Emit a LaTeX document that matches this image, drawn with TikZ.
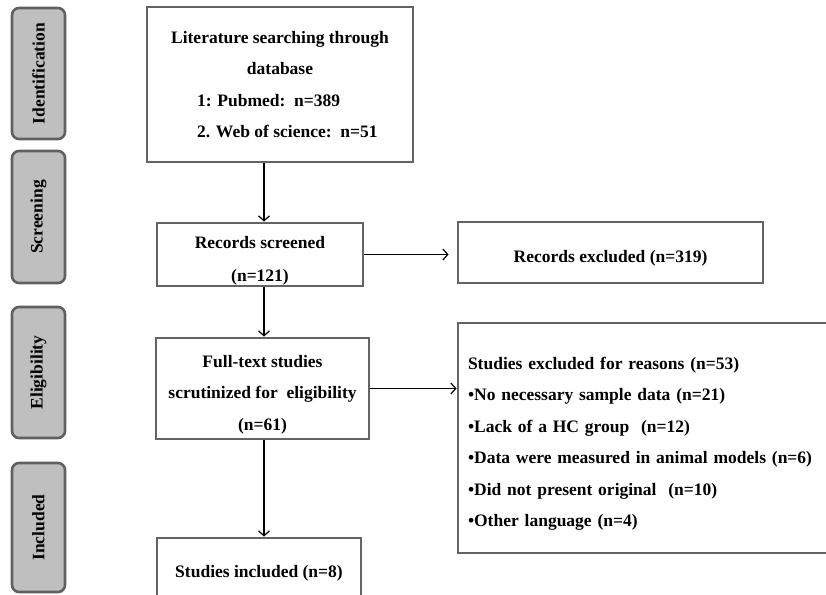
\documentclass[tikz,border=0pt]{standalone}
\usepackage{fontspec}
\setmainfont{Liberation Serif}
\usetikzlibrary{arrows.meta}

\definecolor{stagefill}{RGB}{191,191,191}
\definecolor{stageline}{RGB}{96,96,96}
\definecolor{boxline}{RGB}{100,100,100}

\newcommand{\boxdrop}{\rule{0pt}{24pt}}

\tikzset{every path/.style={line width=1.2pt}}
\tikzset{stage/.style={rectangle,rounded corners=7pt,draw=stageline,line width=2.6pt,
    fill=stagefill,rotate=90,minimum height=53pt,inner sep=0pt,
    font=\fontsize{17.5}{20}\selectfont\bfseries}}
\tikzset{flowbox/.style={rectangle,draw=boxline,line width=2.8pt,inner sep=0pt,
    align=center,font=\fontsize{17.5}{31.5}\selectfont\bfseries}}

\begin{document}
\begin{tikzpicture}[x=1pt,y=-1pt]
    \useasboundingbox (0,0) rectangle (826,594);
    \coordinate (col) at (264,0);
    \node[stage,minimum width=131pt] (idf) at (38.5,73.5) {Identification};
    \node[stage,minimum width=132pt] (scrn) at (38.5,217) {Screening};
    \node[stage,minimum width=131pt] (elig) at (38.5,372.5) {Eligibility};
    \node[stage,minimum width=129pt] (incl) at (38.5,527.5) {Included};
    \node[flowbox,minimum width=266pt,minimum height=155pt] (lit) at (280,84.5)
    {Literature searching through\\database\\
     \makebox[166pt][l]{1: Pubmed:\ \ n=389}\\
     \makebox[166pt][l]{2. Web of science:\ \ n=51}};
    \node[flowbox,minimum width=206pt,minimum height=63pt] (scr) at (260,254.5)
    {\boxdrop Records screened\\[1.5pt](n=121)};
    \node[flowbox,minimum width=213pt,minimum height=101pt] (full) at (262.5,388.5)
    {\boxdrop Full-text studies\\scrutinized for\ \ eligibility\\(n=61)};
    \node[flowbox,minimum width=204pt,minimum height=70pt] (sinc) at (259,573)
    {Studies included (n=8)};
    \node[flowbox,minimum width=305pt,minimum height=61pt] (rex) at (610.5,252.5)
    {\boxdrop Records excluded (n=319)};
    \node[flowbox,minimum width=400pt,minimum height=230pt,align=left,
    text width=380pt] (sex) at (658,438)
    {\boxdrop Studies excluded for reasons (n=53)\\
     \textbullet No necessary sample data (n=21)\\
     \textbullet Lack of a HC group\ \ (n=12)\\
     \textbullet Data were measured in animal models (n=6)\\
     \textbullet Did not present original\ \ (n=10)\\
     \textbullet Other language (n=4)};
    \path[black, ->, >={Straight Barb[length=5pt,width=11pt]}]
    (lit.south -| col) edge (scr.north -| col)
    (scr.south -| col) edge (full.north -| col)
    (full.south -| col) edge (sinc.north -| col)
    (scr.east) edge[shorten >=8pt] (scr.east -| rex.west)
    (full.east) edge (full.east -| sex.west);
  \end{tikzpicture}
\end{document}
